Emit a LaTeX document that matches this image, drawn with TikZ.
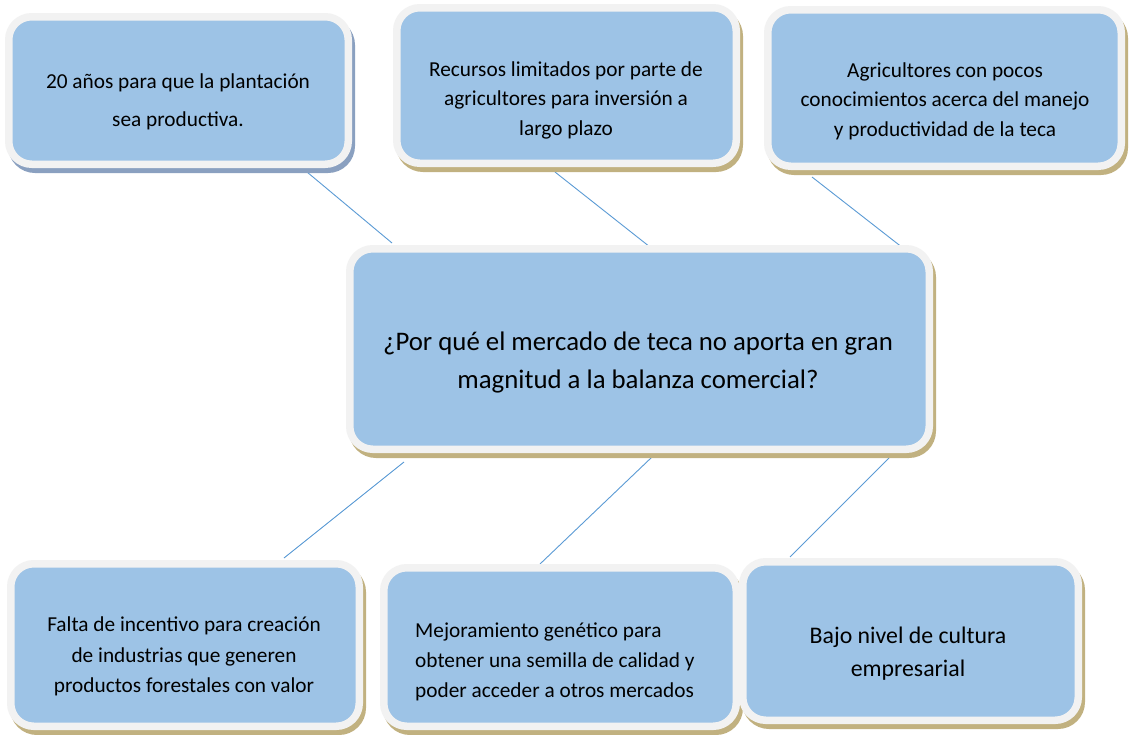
\documentclass[tikz,border=0pt]{standalone}
\usepackage{fontspec}
\setmainfont{Carlito}
\definecolor{boxblue}{RGB}{157,195,230}
\definecolor{boxborder}{RGB}{242,242,242}
\definecolor{khaki}{RGB}{193,177,128}
\definecolor{greyblue}{RGB}{138,160,192}
\definecolor{linkblue}{RGB}{91,155,213}
\tikzset{
  box/.style={draw=boxborder, line width=7.5pt, fill=boxblue, rounded corners=23pt, inner sep=0pt, outer sep=0pt},
  txt/.style={align=center, text=black, inner sep=0pt, font=\fontsize{21.3}{29.5}\selectfont},
  link/.style={draw=linkblue, line width=0.9pt}
}
\newcommand{\mybox}[6]{%
  \fill[#6, rounded corners=27pt] ({#2+3},{#3+5}) rectangle ({#4+3},{#5+5});
  \node[box, minimum width={(#4-#2-7.5)*1pt}, minimum height={(#5-#3-7.5)*1pt}] (#1) at ({(#2+#4)/2},{(#3+#5)/2}) {};
}
\begin{document}
\begin{tikzpicture}[x=1pt,y=-1pt]
\useasboundingbox[fill=white] (0,0) rectangle (1131,734);

% connector ends
\coordinate (l1a) at (307,172); \coordinate (l1b) at (392,243);
\coordinate (l2a) at (555,172); \coordinate (l2b) at (650,247);
\coordinate (l3a) at (812,177); \coordinate (l3b) at (903,248);
\coordinate (l4a) at (404,462); \coordinate (l4b) at (284,558);
\coordinate (l5a) at (652,457); \coordinate (l5b) at (540,564);
\coordinate (l6a) at (889,458); \coordinate (l6b) at (790,557);
\draw[link] (l1a) -- (l1b);
\draw[link] (l2a) -- (l2b);
\draw[link] (l3a) -- (l3b);
\draw[link] (l4a) -- (l4b);
\draw[link] (l5a) -- (l5b);
\draw[link] (l6a) -- (l6b);

% boxes
\mybox{b1}{5}{13}{352}{168}{greyblue}
\mybox{b2}{393}{4}{740}{167}{khaki}
\mybox{b3}{764}{6}{1125}{170}{khaki}
\mybox{bc}{346}{245}{933}{453}{khaki}
\mybox{b4}{7}{560}{363}{730}{khaki}
\mybox{b5}{380}{564}{740}{730}{khaki}
\mybox{b6}{739}{558}{1082}{724}{khaki}

% texts
\node[txt, font=\fontsize{21.3}{38}\selectfont] (t1) at (178,102) {20 años para que la plantación\\sea productiva.};
\node[txt] (t2) at (566,100) {Recursos limitados por parte de\\agricultores para inversión a\\largo plazo};
\node[txt] (t3) at (945,101) {Agricultores con pocos\\conocimientos acerca del manejo\\y productividad de la teca};
\node[txt, font=\fontsize{26.8}{38}\selectfont] (tc) at (638,362) {¿Por qué el mercado de teca no aporta en gran\\magnitud a la balanza comercial?};
\node[txt, font=\fontsize{21.3}{30.5}\selectfont] (t4) at (184,656.5) {Falta de incentivo para creación\\de industrias que generen\\productos forestales con valor};
\node[txt, align=left, anchor=west, font=\fontsize{21.3}{30}\selectfont] (t5) at (415,662) {Mejoramiento genético para\\obtener una semilla de calidad y\\poder acceder a otros mercados};
\node[txt, font=\fontsize{23.8}{33}\selectfont] (t6) at (908,653.5) {Bajo nivel de cultura\\empresarial};
\end{tikzpicture}
\end{document}
